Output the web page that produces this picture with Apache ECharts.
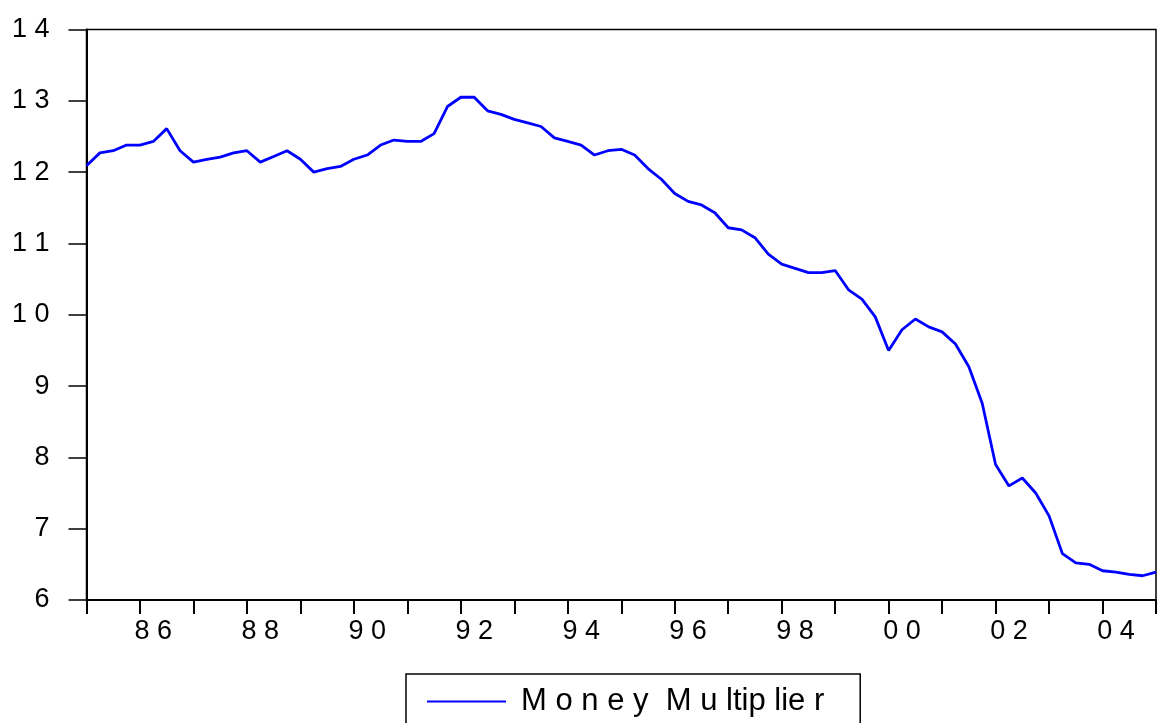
<!DOCTYPE html>
<html>
<head>
<meta charset="utf-8">
<script src="https://cdn.jsdelivr.net/npm/echarts@6/dist/echarts.min.js"></script>
<style>
html,body{margin:0;padding:0;background:#fff;}
#chart{width:1163px;height:723px;}
</style>
</head>
<body>
<div id="chart"></div>
<script>
// Quarterly series 1985Q1 .. 2005Q1
var startYear = 1985;
var seriesName = 'Money Multiplier';
var legendText = 'M o n e y  M u ltip lie r';
var xTickLabels = ['86', '88', '90', '92', '94', '96', '98', '00', '02', '04'];
var yTickLabels = ['6', '7', '8', '9', '10', '11', '12', '13', '14'];
var moneyMultiplier = [
  12.09, 12.27, 12.30, 12.38, 12.38, 12.43, 12.61, 12.30, 12.14, 12.18,
  12.21, 12.27, 12.30, 12.14, 12.22, 12.30, 12.18, 12.00, 12.05, 12.08,
  12.18, 12.24, 12.38, 12.45, 12.43, 12.43, 12.54, 12.92, 13.05, 13.05,
  12.86, 12.81, 12.74, 12.69, 12.64, 12.48, 12.43, 12.38, 12.24, 12.30,
  12.32, 12.24, 12.05, 11.90, 11.70, 11.59, 11.54, 11.43, 11.22, 11.19,
  11.08, 10.85, 10.71, 10.65, 10.59, 10.59, 10.62, 10.35, 10.22, 9.97,
  9.50, 9.79, 9.94, 9.83, 9.76, 9.59, 9.27, 8.76, 7.90, 7.60,
  7.71, 7.50, 7.18, 6.65, 6.52, 6.50, 6.41, 6.39, 6.36, 6.34,
  6.39
];

var categories = [];
for (var i = 0; i < moneyMultiplier.length; i++) {
  categories.push((startYear + Math.floor(i / 4)) + 'Q' + (i % 4 + 1));
}
function spaced(s) { return s.split('').join(' '); }
function labelFor(cat) {
  if (cat.slice(-2) !== 'Q2') return null;
  var yy = cat.slice(2, 4);
  return xTickLabels.indexOf(yy) >= 0 ? yy : null;
}

var FONT = "'Liberation Sans', Arial, sans-serif";
var chart = echarts.init(document.getElementById('chart'), null, {renderer: 'canvas'});
chart.setOption({
  animation: false,
  backgroundColor: '#ffffff',
  grid: {
    left: 86.5, right: 7, top: 29.5, bottom: 123,
    show: true, borderColor: '#000', borderWidth: 1.5, backgroundColor: 'transparent'
  },
  legend: {
    left: 406, top: 674,
    padding: [12, 36, 30, 21],
    borderColor: '#000', borderWidth: 1.5,
    itemWidth: 79, itemHeight: 2,
    data: [{name: seriesName, icon: 'rect'}],
    formatter: function () { return legendText; },
    textStyle: {fontFamily: FONT, fontSize: 31, color: '#000', padding: [0, 0, 0, 10]},
    itemStyle: {color: '#0000ff'}
  },
  xAxis: {
    type: 'category',
    data: categories,
    boundaryGap: false,
    axisLine: {lineStyle: {color: '#000', width: 2}},
    axisTick: {
      show: true, length: 14, lineStyle: {color: '#000', width: 2},
      interval: function (idx) { return idx % 4 === 0; }
    },
    axisLabel: {
      interval: function (idx, val) { return labelFor(val) !== null; },
      formatter: function (val) { var l = labelFor(val); return l ? spaced(l) : ''; },
      fontFamily: FONT, fontSize: 27, color: '#000', margin: 18
    },
    splitLine: {show: false}
  },
  yAxis: {
    type: 'value',
    min: 6, max: 14, interval: 1,
    axisLine: {show: true, lineStyle: {color: '#000', width: 2}},
    axisTick: {show: true, length: 18, lineStyle: {color: '#000', width: 1.5}},
    axisLabel: {
      formatter: function (v) { var s = yTickLabels[v - 6]; return s ? spaced(s) : ''; },
      fontFamily: FONT, fontSize: 27, color: '#000', margin: 37,
      padding: [0, 0, 10, 0]
    },
    splitLine: {show: false}
  },
  series: [{
    name: seriesName,
    type: 'line',
    data: moneyMultiplier,
    symbol: 'none',
    showSymbol: false,
    lineStyle: {color: '#0000ff', width: 2.8},
    itemStyle: {color: '#0000ff'}
  }]
});
</script>
</body>
</html>
